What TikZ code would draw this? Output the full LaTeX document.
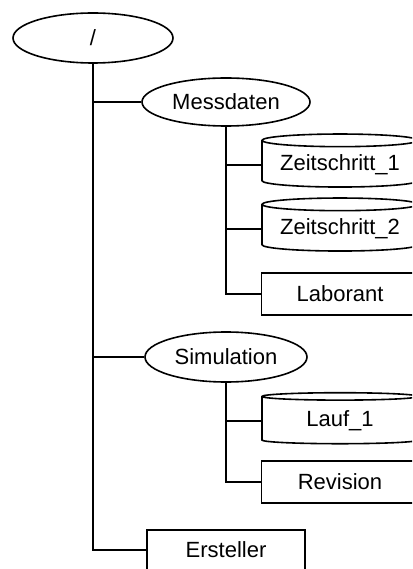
\documentclass[tikz,border=0pt]{standalone}
\usepackage{fontspec}
\setmainfont{Liberation Sans}
\usetikzlibrary{shapes.geometric}

\begin{document}
\begin{tikzpicture} [
            x=1pt, y=-1pt,
            font=\fontsize{22}{26}\selectfont,
            group/.style   = { ellipse, draw, line width=1.6pt,
                               minimum width=162pt, minimum height=50pt },
            dataset/.style = { cylinder, shape border rotate=90, draw,
                               line width=1.6pt, aspect=0.1,
                               minimum width=156pt, minimum height=53pt },
            attrib/.style  = { rectangle, draw, line width=1.6pt,
                               minimum width=157pt, minimum height=42pt },
            line/.style    = { draw, line width=1.6pt },
          ]
          \clip (0,0) rectangle (412,569);

          \node (root) [group, minimum width=160pt] at (93,38) {/};
          \node (mess) [group, minimum width=168pt, minimum height=48pt] at (226,102) {Messdaten};
          \node (zs1) [dataset] at (340,165) {Zeitschritt\_1};
          \node (zs2) [dataset] at (340,229) {Zeitschritt\_2};
          \node (lab) [attrib] at (340,294) {Laborant};
          \node (sim) [group] at (226,357) {Simulation};
          \node (lauf) [dataset, minimum height=51pt] at (340,421) {Lauf\_1};
          \node (rev) [attrib] at (340,482) {Revision};
          \node (erst) [attrib, minimum width=158pt, minimum height=40pt] at (226,550) {Ersteller};

            \draw [line] (root.south) |- (mess.west);
            \draw [line] (root.south) |- (sim.west);
            \draw [line] (root.south) |- (erst.west);
            \draw [line] (mess.south) |- (zs1.west);
            \draw [line] (mess.south) |- (zs2.west);
            \draw [line] (mess.south) |- (lab.west);
            \draw [line] (sim.south) |- (lauf.west);
            \draw [line] (sim.south) |- (rev.west);
        \end{tikzpicture}
\end{document}
